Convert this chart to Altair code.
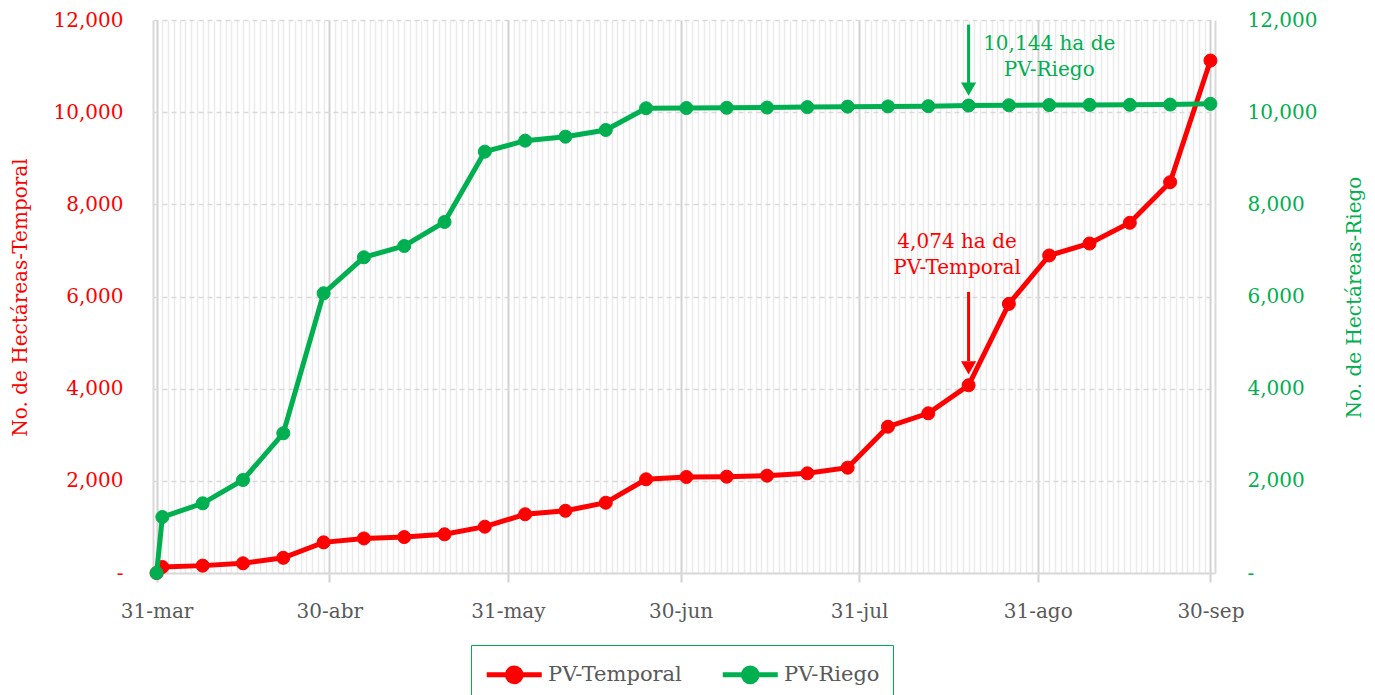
import altair as alt
import pandas as pd

# ---------------- data ----------------
fechas = ["2022-03-31", "2022-04-01", "2022-04-08", "2022-04-15", "2022-04-22", "2022-04-29",
          "2022-05-06", "2022-05-13", "2022-05-20", "2022-05-27", "2022-06-03", "2022-06-10",
          "2022-06-17", "2022-06-24", "2022-07-01", "2022-07-08", "2022-07-15", "2022-07-22",
          "2022-07-29", "2022-08-05", "2022-08-12", "2022-08-19", "2022-08-26", "2022-09-02",
          "2022-09-09", "2022-09-16", "2022-09-23", "2022-09-30"]
pv_temporal = [0, 130, 160, 210, 330, 665, 750, 780, 840, 1005, 1275, 1350, 1525, 2033,
               2083, 2090, 2112, 2163, 2285, 3175, 3465, 4074, 5840, 6890, 7150, 7600, 8480, 11120]
pv_riego = [0, 1215, 1512, 2018, 3032, 6070, 6851, 7096, 7617, 9143, 9382, 9468, 9613, 10085,
            10090, 10095, 10100, 10110, 10120, 10125, 10130, 10144, 10150, 10155, 10158, 10160,
            10165, 10180]
series = ["PV-Temporal", "PV-Riego"]
colors = ["#ff0000", "#00b050"]
y_ticks = [0, 2000, 4000, 6000, 8000, 10000, 12000]
meses = ["ene", "feb", "mar", "abr", "may", "jun", "jul", "ago", "sep", "oct", "nov", "dic"]

# annotations (data coordinates)
ann_text_r = ["4,074 ha de\nPV-Temporal"]
ann_text_r_fecha = ["2022-08-17"]
ann_text_r_valor = [7180]
ann_arrow_r_fecha = ["2022-08-19"]
ann_arrow_r_desde = [6100]
ann_arrow_r_hasta = [4600]
ann_head_r_valor = [4450]

ann_text_g = ["10,144 ha de\nPV-Riego"]
ann_text_g_fecha = ["2022-09-02"]
ann_text_g_valor = [11480]
ann_arrow_g_fecha = ["2022-08-19"]
ann_arrow_g_desde = [11900]
ann_arrow_g_hasta = [10560]
ann_head_g_valor = [10500]

RED, GREEN = colors
GRAY = "#595959"
FONT = "DejaVu Serif"

df_t = pd.DataFrame({"fecha": fechas, "valor": pv_temporal, "serie": series[0]})
df_g = pd.DataFrame({"fecha": fechas, "valor": pv_riego, "serie": series[1]})

# ---------------- scales / axes ----------------
major = "utcdate(time(datum.value) + 86400000) == 1"
meses_js = "[" + ",".join(f"'{m}'" for m in meses) + "]"
x_axis = alt.Axis(
    tickCount={"interval": "day", "step": 1},
    labelExpr=f"{major} ? utcdate(time(datum.value)) + '-' + {meses_js}[utcmonth(time(datum.value))] : ''",
    labelOverlap=False, labelBound=False, labelFlush=False,
    labelColor=GRAY, labelFontSize=20, labelPadding=19, labelFont=FONT,
    grid=True,
    gridColor={"condition": {"test": major, "value": "#d2d2d2"}, "value": "#ebebeb"},
    gridWidth={"condition": {"test": major, "value": 2}, "value": 1.5},
    ticks=True, tickSize=9, tickColor="#d2d2d2", tickWidth=2,
    tickOpacity={"condition": {"test": major, "value": 1}, "value": 0},
    domain=True, domainColor="#d9d9d9", domainWidth=2,
    title=None,
)
x_scale = alt.Scale(type="utc", domain=[
    alt.DateTime(year=2022, month=3, date=30, hours=9, utc=True),
    alt.DateTime(year=2022, month=9, date=30, hours=19, utc=True)])
X = alt.X("fecha:T", scale=x_scale, axis=x_axis)

y_label_expr = "datum.value == 0 ? '-' : format(datum.value, ',')"
y_left_axis = alt.Axis(
    orient="left", values=y_ticks, labelExpr=y_label_expr, labelColor=RED, labelFontSize=20,
    labelFont=FONT, labelPadding=30, ticks=False, domain=True, domainColor="#d9d9d9",
    domainWidth=2, grid=True, gridColor="#d9d9d9", gridDash=[5, 4], gridWidth=1.5,
    title="No. de Hectáreas-Temporal", titleColor=RED, titleFontSize=20, titleFont=FONT,
    titleFontWeight="normal", titleAngle=270, titleX=-133, titleY=277,
    titleBaseline="middle", titleAlign="center")
y_right_axis = alt.Axis(
    orient="right", values=y_ticks, labelExpr=y_label_expr, labelColor=GREEN, labelFontSize=20,
    labelFont=FONT, labelPadding=32, ticks=False, domain=True, domainColor="#d9d9d9",
    domainWidth=2, grid=False,
    title="No. de Hectáreas-Riego", titleColor=GREEN, titleFontSize=20, titleFont=FONT,
    titleFontWeight="normal", titleAngle=270, titleX=139, titleY=277,
    titleBaseline="middle", titleAlign="center")
y_scale_l = alt.Scale(domain=[0, 12000], nice=False, zero=True)
y_scale_r = alt.Scale(domain=[0, 12000], nice=False, zero=True)

PATH = "M-1,0H3M1.5,0A0.5,0.5,0,1,1,0.5,0A0.5,0.5,0,1,1,1.5,0Z"
legend = alt.Legend(
    title=None, orient="none", legendX=318, legendY=625, direction="horizontal",
    symbolType=PATH, symbolSize=756, symbolStrokeWidth=5, labelOffset=31,
    labelFontSize=21, labelFont=FONT, labelColor=GRAY, columnPadding=30, padding=13,
    strokeColor=GREEN)
c_scale = alt.Scale(domain=series, range=colors)
STROKE = alt.Stroke("serie:N", scale=c_scale, legend=legend)
FILL = alt.Fill("serie:N", scale=c_scale, legend=legend)


def group(df, axis, yscale, color, txt, txt_f, txt_v, ar_f, ar_d, ar_h, head_v):
    Y = alt.Y("valor:Q", scale=yscale, axis=axis)
    base = alt.Chart(df)
    line = base.mark_line(strokeWidth=5).encode(x=X, y=Y, stroke=STROKE)
    pts = base.mark_point(filled=True, size=170, opacity=1, strokeWidth=1).encode(
        x=X, y=Y, fill=FILL, stroke=STROKE)
    tdf = pd.DataFrame({"fecha": txt_f, "valor": txt_v, "t": txt})
    text = alt.Chart(tdf).mark_text(font=FONT, fontSize=20, color=color, lineBreak="\n",
                                    align="center", baseline="middle", lineHeight=26).encode(
        x=X, y=Y, text="t:N")
    adf = pd.DataFrame({"fecha": ar_f, "valor": ar_d, "valor2": ar_h})
    rule = alt.Chart(adf).mark_rule(color=color, strokeWidth=3).encode(x=X, y=Y, y2="valor2:Q")
    hdf = pd.DataFrame({"fecha": ar_f, "valor": head_v})
    head = alt.Chart(hdf).mark_point(shape="triangle-down", filled=True, size=230, opacity=1,
                                     color=color).encode(x=X, y=Y)
    return alt.layer(line, pts, rule, head, text)


red = group(df_t, y_left_axis, y_scale_l, RED, ann_text_r, ann_text_r_fecha, ann_text_r_valor,
            ann_arrow_r_fecha, ann_arrow_r_desde, ann_arrow_r_hasta, ann_head_r_valor)
green = group(df_g, y_right_axis, y_scale_r, GREEN, ann_text_g, ann_text_g_fecha,
              ann_text_g_valor, ann_arrow_g_fecha, ann_arrow_g_desde, ann_arrow_g_hasta,
              ann_head_g_valor)

chart = alt.layer(red, green).resolve_scale(y="independent").properties(
    width=1062, height=553,
    padding={"left": 145, "top": 12, "right": 152, "bottom": 140},
    autosize=alt.AutoSizeParams(type="none"),
).configure(font=FONT).configure_view(stroke=None)

chart.save("out.html", embed_options={"renderer": "svg", "actions": False})
